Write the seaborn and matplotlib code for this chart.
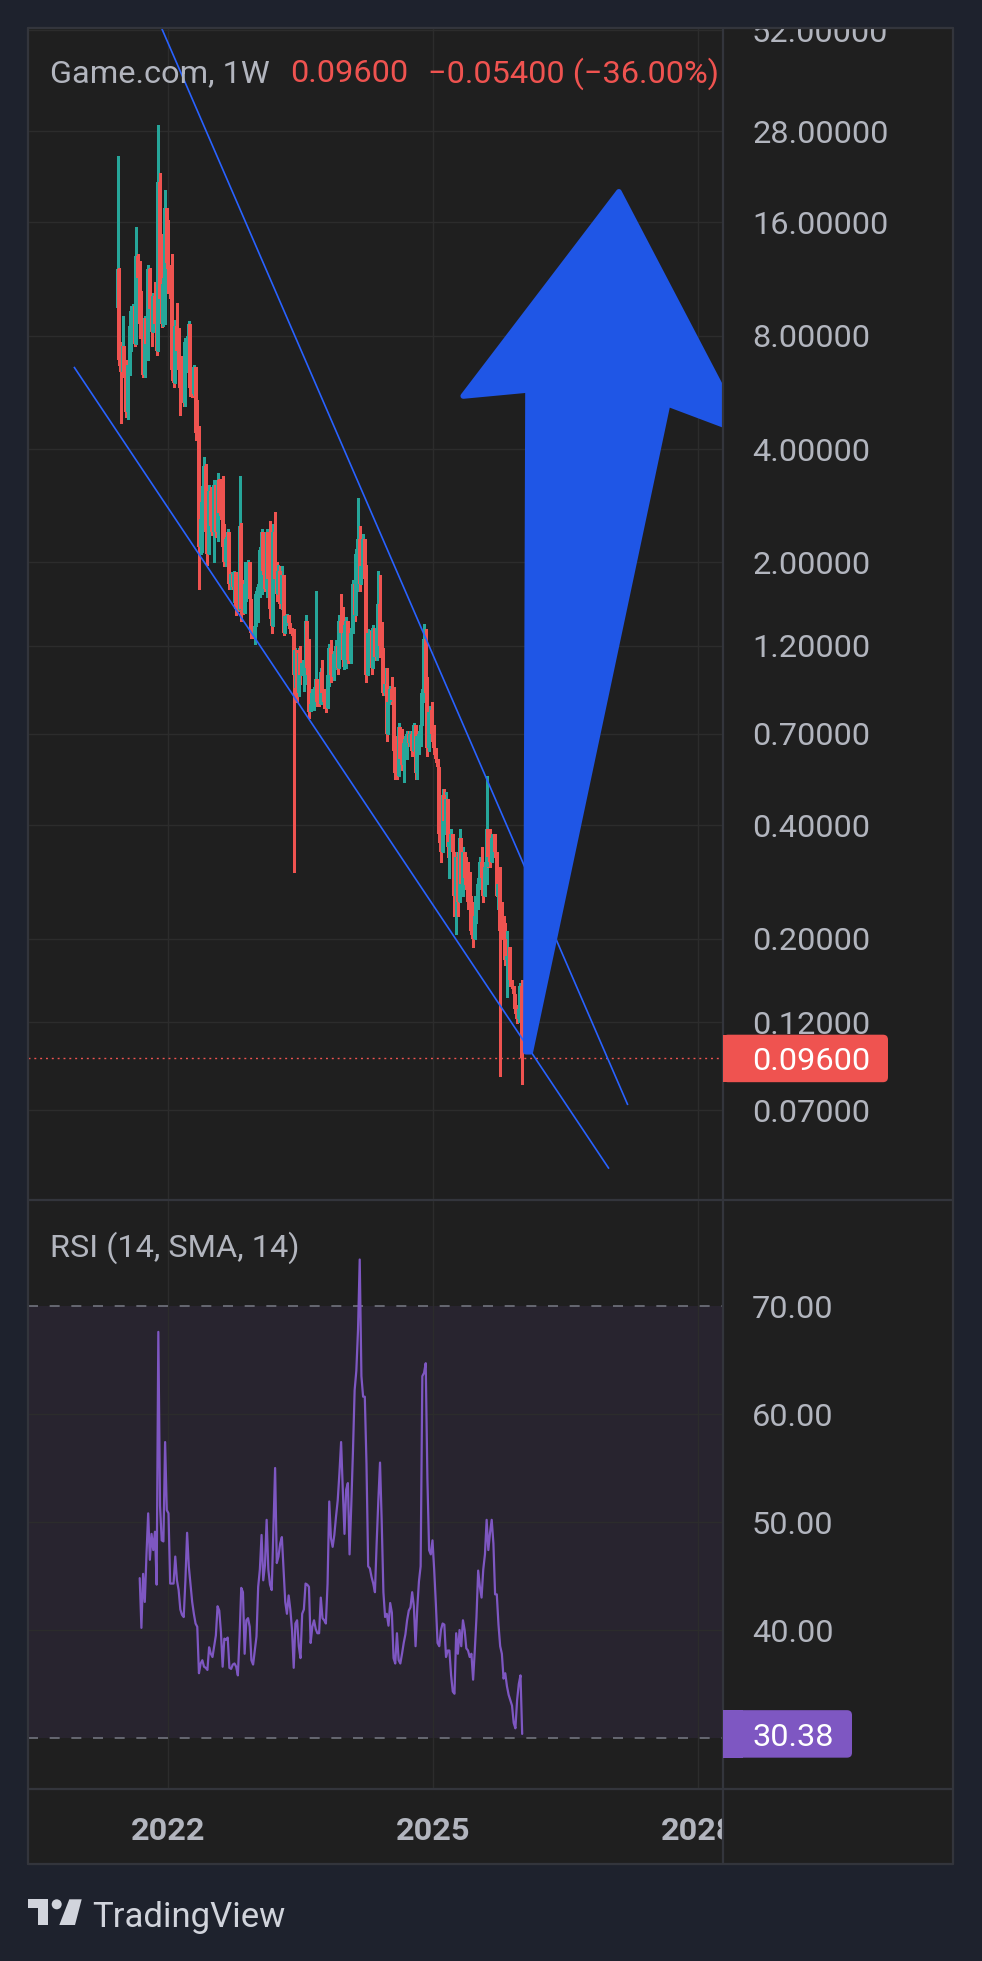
import datetime as dt
import numpy as np
import matplotlib
matplotlib.use("Agg")
import matplotlib.pyplot as plt
import matplotlib.dates as mdates
import matplotlib.transforms as mtransforms
from matplotlib.patches import Polygon, Rectangle, FancyBboxPatch, Circle
from matplotlib.lines import Line2D
import pandas as pd
import seaborn as sns

# ---- data (weekly candles, Game.com / USDT, 1W) ----
first_open = 9.5
closes = [
    12.0, 6.9, 6.4, 7.5, 6.3, 5.0, 6.7, 8.5, 9.3, 9.6,
    7.6, 13.0, 11.4, 8.6, 8.4, 6.3, 8.9, 7.6, 12.0, 9.4,
    8.2, 10.2, 8.6, 7.3, 20.5, 10.0, 8.6, 11.0, 17.5, 12.5,
    12.0, 10.3, 6.5, 6.0, 8.5, 7.3, 6.5, 5.8, 5.6, 5.3,
    7.7, 7.9, 8.6, 5.8, 5.6, 6.6, 4.4, 4.3, 2.2, 2.6,
    2.9, 3.6, 2.4, 2.1, 3.1, 2.5, 2.4, 3.2, 2.4, 3.3,
    2.7, 2.65, 2.2, 2.0, 2.3, 2.4, 1.75, 1.86, 1.72, 1.88,
    1.5, 1.49, 2.5, 1.5, 1.47, 1.75, 1.8, 2.0, 1.6, 1.3,
    1.28, 1.35, 1.65, 1.72, 2.15, 2.4, 1.9, 1.7, 2.4, 1.8,
    1.5, 1.35, 2.4, 1.8, 1.65, 1.9, 1.55, 1.85, 1.3, 1.44,
    1.45, 1.38, 1.33, 1.3, 1.0, 1.17, 0.9, 1.15, 1.0, 1.08,
    1.09, 1.4, 1.05, 0.8, 0.84, 0.9, 0.92, 0.98, 0.85, 0.84,
    1.02, 0.9, 0.85, 0.82, 1.0, 1.18, 1.0, 0.99, 1.14, 1.2,
    1.05, 1.4, 1.3, 1.1, 1.3, 1.4, 1.1, 1.09, 1.3, 1.75,
    1.45, 2.1, 2.3, 1.75, 1.95, 2.3, 1.8, 1.0, 1.3, 1.31,
    1.05, 1.34, 1.12, 1.34, 1.55, 1.2, 1.15, 0.9, 0.95, 0.7,
    0.85, 0.92, 0.86, 0.63, 0.55, 0.54, 0.73, 0.6, 0.58, 0.66,
    0.68, 0.70, 0.66, 0.70, 0.63, 0.74, 0.55, 0.69, 0.70, 0.74,
    0.9, 1.25, 0.9, 0.64, 0.8, 0.81, 0.7, 0.64, 0.6, 0.57,
    0.38, 0.34, 0.48, 0.41, 0.47, 0.35, 0.36, 0.38, 0.34, 0.26,
    0.33, 0.25, 0.37, 0.28, 0.34, 0.29, 0.28, 0.25, 0.245, 0.21,
    0.20, 0.23, 0.24, 0.28, 0.32, 0.29, 0.26, 0.31, 0.39, 0.33,
    0.32, 0.37, 0.38, 0.34, 0.26, 0.28, 0.21, 0.205, 0.2, 0.175,
    0.18, 0.19, 0.155, 0.15, 0.142, 0.13, 0.122, 0.13, 0.15, 0.096,
]
highs = [
    24.0, 12.1, 7.7, 9.0, 7.5, 6.9, 6.7, 8.9, 9.6, 9.7,
    9.6, 15.6, 13.2, 12.6, 10.5, 8.8, 9.0, 8.9, 12.3, 12.1,
    10.4, 10.4, 11.1, 9.8, 29.0, 21.7, 14.9, 11.4, 19.5, 17.5,
    16.2, 12.3, 13.2, 7.8, 8.8, 9.75, 8.4, 7.05, 7.05, 6.7,
    7.9, 8.0, 8.76, 8.6, 6.36, 6.7, 6.6, 5.4, 4.6, 3.19,
    2.93, 3.8, 3.65, 2.63, 3.2, 3.16, 2.77, 3.3, 3.2, 3.45,
    3.33, 3.33, 3.4, 2.52, 2.33, 2.45, 2.4, 1.88, 1.88, 1.9,
    1.88, 1.72, 3.38, 2.54, 1.79, 2.0, 1.81, 2.03, 2.0, 1.6,
    1.34, 1.36, 1.68, 1.75, 2.19, 2.45, 2.4, 2.4, 2.45, 2.4,
    2.58, 1.86, 2.52, 2.72, 2.0, 1.97, 1.95, 1.95, 1.85, 1.46,
    1.46, 1.45, 1.38, 1.34, 1.33, 1.18, 1.17, 1.18, 1.2, 1.10,
    1.10, 1.45, 1.4, 1.25, 0.9, 0.92, 0.93, 1.68, 0.98, 0.9,
    1.05, 1.1, 0.92, 0.91, 1.01, 1.21, 1.24, 1.14, 1.16, 1.24,
    1.26, 1.45, 1.65, 1.52, 1.36, 1.43, 1.4, 1.2, 1.34, 1.79,
    1.75, 2.17, 2.97, 2.5, 2.04, 2.38, 2.3, 1.97, 1.33, 1.32,
    1.31, 1.36, 1.34, 1.36, 1.9, 1.85, 1.39, 1.18, 1.05, 1.05,
    0.86, 0.94, 0.99, 0.93, 0.69, 0.68, 0.75, 0.73, 0.72, 0.68,
    0.69, 0.71, 0.71, 0.71, 0.71, 0.75, 0.74, 0.71, 0.71, 0.75,
    0.92, 1.37, 1.33, 0.99, 0.83, 0.82, 0.85, 0.74, 0.64, 0.60,
    0.57, 0.46, 0.5, 0.5, 0.49, 0.47, 0.37, 0.39, 0.38, 0.34,
    0.34, 0.34, 0.39, 0.37, 0.35, 0.34, 0.33, 0.32, 0.30, 0.26,
    0.25, 0.26, 0.245, 0.29, 0.33, 0.35, 0.32, 0.32, 0.54, 0.39,
    0.39, 0.38, 0.38, 0.38, 0.34, 0.29, 0.31, 0.25, 0.23, 0.22,
    0.21, 0.19, 0.19, 0.155, 0.15, 0.142, 0.133, 0.134, 0.152, 0.155,
]
lows = [
    9.5, 6.7, 4.7, 6.4, 6.2, 4.85, 4.8, 6.3, 7.3, 8.0,
    7.5, 7.6, 11.2, 7.9, 8.3, 6.2, 6.2, 7.5, 6.9, 9.3,
    7.5, 8.2, 8.4, 7.1, 7.3, 9.7, 8.45, 8.5, 8.6, 12.3,
    10.4, 10.1, 6.1, 5.85, 6.0, 7.26, 6.36, 4.93, 5.55, 5.19,
    5.2, 6.4, 6.4, 5.52, 5.5, 5.57, 4.22, 4.28, 1.7, 2.1,
    2.13, 2.5, 2.35, 1.97, 2.1, 2.43, 2.36, 2.0, 2.33, 2.28,
    2.61, 2.6, 2.19, 1.95, 1.95, 2.06, 1.70, 1.70, 1.70, 1.57,
    1.45, 1.48, 1.49, 1.40, 1.46, 1.47, 1.58, 1.68, 1.58, 1.26,
    1.26, 1.21, 1.35, 1.39, 1.62, 1.65, 1.86, 1.68, 1.62, 1.72,
    1.42, 1.3, 1.35, 1.72, 1.58, 1.65, 1.51, 1.5, 1.28, 1.3,
    1.36, 1.34, 1.3, 1.28, 0.30, 0.93, 0.85, 0.88, 0.95, 1.0,
    0.91, 0.95, 1.01, 0.77, 0.81, 0.81, 0.81, 0.85, 0.83, 0.83,
    0.84, 0.87, 0.82, 0.80, 0.82, 0.94, 0.96, 0.97, 0.97, 1.04,
    1.01, 1.05, 1.29, 1.06, 1.04, 1.05, 1.08, 1.08, 1.08, 1.3,
    1.40, 1.45, 1.68, 1.68, 1.75, 1.90, 1.72, 0.96, 1.0, 1.10,
    1.01, 1.05, 1.10, 1.10, 1.24, 1.12, 1.12, 0.89, 0.89, 0.67,
    0.70, 0.84, 0.84, 0.61, 0.53, 0.53, 0.54, 0.56, 0.56, 0.52,
    0.61, 0.6, 0.65, 0.65, 0.61, 0.63, 0.53, 0.53, 0.62, 0.65,
    0.74, 0.85, 0.88, 0.61, 0.63, 0.74, 0.67, 0.62, 0.59, 0.56,
    0.36, 0.32, 0.34, 0.39, 0.38, 0.33, 0.29, 0.35, 0.33, 0.23,
    0.205, 0.23, 0.25, 0.27, 0.26, 0.28, 0.27, 0.24, 0.24, 0.205,
    0.19, 0.2, 0.22, 0.24, 0.27, 0.28, 0.25, 0.26, 0.28, 0.31,
    0.31, 0.32, 0.33, 0.33, 0.26, 0.24, 0.086, 0.20, 0.195, 0.17,
    0.14, 0.17, 0.15, 0.148, 0.14, 0.127, 0.119, 0.12, 0.128, 0.082,
]
# RSI(14) values, first one on the 14th candle
rsi = [
    44.8, 40.2, 45.2, 42.6, 47.0, 50.8, 46.5,
    48.9, 47.4, 49.1, 44.2, 67.6, 51.5, 48.3, 48.2, 57.4, 51.1,
    50.8, 44.3, 44.3, 44.3, 46.8, 44.6, 43.7, 41.9, 41.4, 41.2,
    44.6, 49.0, 45.9, 44.3, 42.6, 41.5, 40.6, 40.3, 36.0, 36.9,
    37.2, 36.6, 36.5, 36.3, 38.4, 37.8, 37.5, 38.5, 39.5, 42.2,
    41.8, 39.8, 36.6, 39.2, 39.1, 39.3, 36.5, 36.4, 36.8, 36.9,
    36.6, 35.8, 39.4, 43.9, 43.5, 37.8, 40.9, 41.1, 40.3, 37.2,
    36.8, 38.1, 39.4, 44.0, 45.6, 48.8, 44.6, 46.0, 50.2, 45.6,
    44.2, 43.7, 49.4, 55.0, 46.2, 46.8, 48.0, 48.6, 45.6, 42.6,
    41.5, 43.2, 41.9, 40.0, 36.5, 40.6, 40.9, 38.5, 37.4, 41.5,
    41.9, 44.3, 44.2, 44.0, 38.8, 40.3, 40.9, 40.1, 39.7, 39.7,
    43.0, 41.1, 40.9, 40.6, 44.3, 51.9, 48.5, 47.7, 48.8, 50.5,
    52.0, 54.5, 57.4, 53.0, 48.9, 53.0, 53.6, 47.0, 51.5, 56.5,
    62.2, 64.0, 67.8, 74.3, 63.5, 61.6, 61.6, 55.4, 45.9, 45.7,
    44.9, 44.3, 43.5, 48.0, 52.0, 55.5, 50.0, 43.5, 41.2, 41.5,
    40.4, 42.5, 41.6, 37.4, 36.9, 39.7, 37.2, 36.9, 37.8, 38.8,
    39.6, 40.9, 41.8, 42.1, 43.5, 42.2, 38.5, 42.0, 44.5, 45.9,
    63.5, 63.8, 64.7, 54.0, 47.4, 47.0, 48.3, 45.6, 42.4, 38.8,
    38.5, 40.0, 40.6, 40.5, 37.5, 38.1, 38.1, 35.8, 34.3, 34.1,
    39.7, 37.8, 40.0, 38.5, 40.9, 40.0, 38.3, 38.1, 37.5, 37.8,
    35.4, 38.1, 41.2, 45.5, 44.0, 43.0, 45.6, 47.0, 50.2, 47.4,
    49.0, 50.2, 48.0, 43.3, 43.3, 40.5, 38.5, 37.8, 35.5, 36.0,
    34.8, 34.0, 33.5, 33.0, 31.4, 30.9, 33.5, 35.0, 35.8, 30.38,
]
start_week = "2021-06-07"

price_ticks = [52, 28, 16, 8, 4, 2, 1.2, 0.7, 0.4, 0.2, 0.12, 0.07]
rsi_ticks = [70, 60, 50, 40]
year_ticks = [2022, 2025, 2028]
last_price = 0.096
change = "\u22120.05400 (\u221236.00%)"
last_rsi = 30.38

# drawings (time, price)
upper_line = [("2021-10-19", 61.8), ("2027-03-18", 0.0722)]
lower_line = [("2020-12-08", 6.61), ("2026-12-30", 0.0489)]
arrow_pts = [("2026-01-20", 0.100), ("2026-01-29", 5.74), ("2025-05-06", 5.53),
             ("2027-02-09", 19.3), ("2028-07-15", 4.41), ("2027-08-30", 5.27),
             ("2026-02-08", 0.100)]

# ---- style ----
OUTER = "#1e222d"
PANE = "#1f1f1f"
BORDER = "#33353c"
GRID = "#2c2c2c"
TEXT = "#b2b5be"
GREEN = "#26a69a"
RED = "#ef5350"
BLUE = "#2962ff"
ARROW = "#1f56e6"
PURPLE = "#7e57c2"
DASH = "#787b86"
LOGO = "#d1d4dc"
FS = 23.4

sns.set_theme(style="dark", rc={"axes.facecolor": PANE, "figure.facecolor": OUTER})
plt.rcParams["font.family"] = ["Roboto", "DejaVu Sans"]
plt.rcParams["lines.scale_dashes"] = False

W, H, DPI = 982, 1961, 100
fig = plt.figure(figsize=(W / DPI, H / DPI), dpi=DPI)
px = mtransforms.Affine2D().scale(1 / DPI) + fig.dpi_scale_trans


def rect(x0, y0, x1, y1):
    # pixel box (top-left origin) -> figure fraction rect
    return [x0 / W, 1 - y1 / H, (x1 - x0) / W, (y1 - y0) / H]


# inner chart background
fig.add_artist(Rectangle((28, H - 1864), 925, 1836, transform=px,
                         facecolor=PANE, edgecolor="none", zorder=-5))

ax_p = fig.add_axes(rect(28, 28, 723, 1200))
ax_r = fig.add_axes(rect(28, 1200, 723, 1789))
ax_t = fig.add_axes(rect(28, 1789, 723, 1864))

base = mdates.date2num(dt.datetime(2022, 1, 1))
xlim = (base - 579.1, base + 2295.7)

for ax in (ax_p, ax_r, ax_t):
    ax.set_facecolor(PANE)
    ax.set_xlim(*xlim)
    for s in ax.spines.values():
        s.set_visible(False)
    ax.grid(False)

ax_p.set_yscale("log")
ax_p.set_ylim(0.04037, 52.58)
ax_r.set_ylim(25.28, 79.81)
for ax in (ax_p, ax_r, ax_t):
    ax.set_xticks([])
    ax.set_yticks([])
    ax.yaxis.set_minor_locator(matplotlib.ticker.NullLocator())

year_x = [mdates.date2num(dt.datetime(y, 1, 1)) for y in year_ticks]

# grid
for t in price_ticks:
    ax_p.axhline(t, color=GRID, lw=1.0, zorder=0)
for t in rsi_ticks[1:]:
    ax_r.axhline(t, color=GRID, lw=1.0, zorder=1)
for xv in year_x:
    ax_p.axvline(xv, color=GRID, lw=1.0, zorder=0)
    ax_r.axvline(xv, color=GRID, lw=1.0, zorder=1)

# candles
weeks = pd.date_range(start_week, periods=len(closes), freq="7D")
xd = mdates.date2num(weeks.to_pydatetime())
c = np.array(closes)
o = np.r_[first_open, c[:-1]]
colors = np.where(c >= o, GREEN, RED)
ax_p.vlines(xd, lows, highs, colors=colors, lw=0.75, zorder=3, antialiased=False)
ax_p.vlines(xd, np.minimum(o, c), np.maximum(o, c), colors=colors, lw=1.45,
            zorder=3, antialiased=False)

ax_p.axhline(last_price, color=RED, lw=1.0, dashes=(1.4, 2.8), zorder=2)

# trend lines
for pts in (upper_line, lower_line):
    lx = [mdates.date2num(pd.Timestamp(d).to_pydatetime()) for d, _ in pts]
    ly = [v for _, v in pts]
    ax_p.plot(lx, ly, color=BLUE, lw=1.2, zorder=4, solid_capstyle="butt")

# arrow drawing
ap = np.array([[mdates.date2num(pd.Timestamp(d).to_pydatetime()), v] for d, v in arrow_pts])
ax_p.add_patch(Polygon(ap, closed=True, facecolor=ARROW, edgecolor=ARROW,
                       lw=4.0, joinstyle="round", zorder=5))

# RSI
ax_r.axhspan(30, 70, color=PURPLE, alpha=0.1, lw=0, zorder=0)
for lvl in (70, 30):
    ax_r.axhline(lvl, color=DASH, lw=1.1, dashes=(7.2, 8.4), zorder=2)
rsi_x = xd[-len(rsi):]
sns.lineplot(x=rsi_x, y=rsi, ax=ax_r, color=PURPLE, linewidth=1.6,
             estimator=None, sort=False, zorder=3)
ax_r.set_xlabel("")
ax_r.set_ylabel("")
ax_r.set_xlim(*xlim)

# axis labels on the right scale
lab_x = (752 - 28) / 695
for ax, ticks, fmt in ((ax_p, price_ticks, "{:.5f}"), (ax_r, rsi_ticks, "{:.2f}")):
    tr = mtransforms.blended_transform_factory(ax.transAxes, ax.transData)
    tr = mtransforms.offset_copy(tr, fig=fig, y=-11.7, units="dots")
    for t in ticks:
        ax.text(lab_x, t, fmt.format(t), transform=tr, color=TEXT, fontsize=FS,
                ha="left", va="baseline", clip_on=False, zorder=6)

# time axis labels
ttr = mtransforms.blended_transform_factory(ax_t.transData, ax_t.transAxes)
for xv, y in zip(year_x, year_ticks):
    tt = ax_t.text(xv, (1864 - 1840) / 75, str(y), transform=ttr, color=TEXT,
                   fontsize=FS, fontweight="bold", ha="center", va="baseline",
                   clip_on=True)
    tt.set_clip_box(ax_t.bbox)

# cover anything above the chart frame
fig.add_artist(Rectangle((0, H - 27), W, 27, transform=px, facecolor=OUTER,
                         edgecolor="none", zorder=50))

# frame lines
frame = [((28, 28), (953, 28)), ((28, 1864), (953, 1864)), ((28, 28), (28, 1864)),
         ((953, 28), (953, 1864)), ((723, 28), (723, 1864)),
         ((28, 1200), (953, 1200)), ((28, 1789), (953, 1789))]
for (x0, y0), (x1, y1) in frame:
    fig.add_artist(Line2D([x0, x1], [H - y0, H - y1], transform=px, color=BORDER,
                          lw=1.6, zorder=60))


def value_tag(ax, value, text, color, right):
    yc = px.inverted().transform(ax.transData.transform((xlim[0], value)))[1]
    hgt = 47.5
    fig.add_artist(FancyBboxPatch((723, yc - hgt / 2), right - 723, hgt,
                                  boxstyle="round,pad=0,rounding_size=5", transform=px,
                                  facecolor=color, edgecolor="none", zorder=61))
    fig.add_artist(Rectangle((723, yc - hgt / 2), 20, hgt, transform=px,
                             facecolor=color, edgecolor="none", zorder=61))
    fig.text(752, yc - 11.7, text, transform=px, color="white", fontsize=FS,
             ha="left", va="baseline", zorder=62)


value_tag(ax_p, last_price, f"{last_price:.5f}", RED, 888)
value_tag(ax_r, last_rsi, f"{last_rsi:.2f}", PURPLE, 852)

# legends / titles
fig.text(50, H - 82.5, "Game.com, 1W", transform=px, color=TEXT, fontsize=FS,
         va="baseline", zorder=40)
fig.text(290, H - 82.5, f"{last_price:.5f}", transform=px, color=RED, fontsize=FS,
         va="baseline", zorder=40)
fig.text(428, H - 82.5, change, transform=px, color=RED, fontsize=FS,
         va="baseline", zorder=40)
fig.text(50, H - 1257, "RSI (14, SMA, 14)", transform=px, color=TEXT, fontsize=FS,
         va="baseline", zorder=40)

# TradingView logo
fig.add_artist(Polygon([(28.3, H - 1899.3), (48.3, H - 1899.3), (48.3, H - 1925),
                        (37.7, H - 1925), (37.7, H - 1908.3), (28.3, H - 1908.3)],
                       closed=True, transform=px, facecolor=LOGO, edgecolor="none"))
fig.add_artist(Circle((56.7, H - 1904.3), 5.0, transform=px, facecolor=LOGO,
                      edgecolor="none"))
fig.add_artist(Polygon([(59.3, H - 1925), (69.3, H - 1899.3), (81.7, H - 1899.3),
                        (75.0, H - 1925)], closed=True, transform=px,
                       facecolor=LOGO, edgecolor="none"))
fig.text(92, H - 1927, "TradingView", transform=px, color=LOGO, fontsize=25,
         va="baseline")

fig.savefig("out.png", dpi=DPI, facecolor=OUTER)
